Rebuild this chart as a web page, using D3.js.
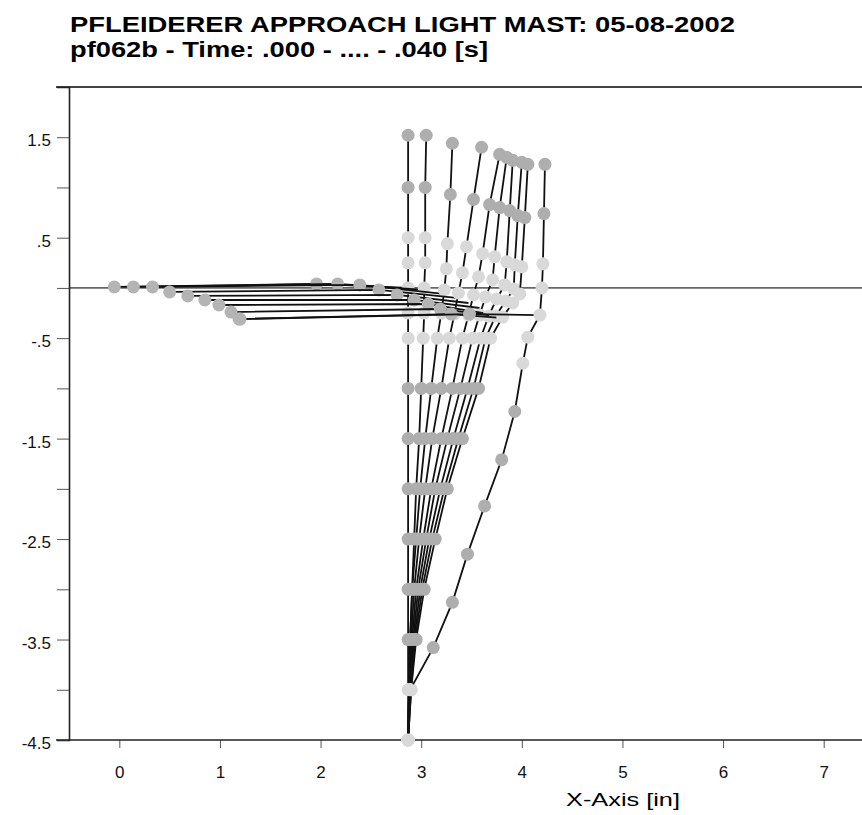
<!DOCTYPE html>
<html>
<head>
<meta charset="utf-8">
<script src="https://cdn.jsdelivr.net/npm/d3@7"></script>
<style>
  body { margin: 0; background: #fff; }
  text { font-family: "Liberation Sans", Arial, sans-serif; }
</style>
</head>
<body>
<script>
// mast node positions per time step (x and y in inches), bottom -> top
const mastX = [
  [2.87,2.87,2.87,2.87,2.87,2.87,2.87,2.87,2.87,2.87,2.87,2.87,2.87,2.87,2.87],
  [2.87,2.88,2.89,2.91,2.93,2.95,2.98,3.00,3.02,3.03,3.03,3.04,3.04,3.04,3.05],
  [2.87,2.88,2.89,2.91,2.95,2.99,3.04,3.10,3.16,3.20,3.23,3.25,3.26,3.29,3.31],
  [2.87,2.88,2.90,2.93,2.98,3.04,3.11,3.20,3.28,3.33,3.37,3.41,3.45,3.52,3.60],
  [2.87,2.88,2.91,2.95,3.02,3.10,3.20,3.31,3.41,3.47,3.52,3.57,3.61,3.68,3.78],
  [2.87,2.89,2.92,2.97,3.05,3.14,3.26,3.39,3.51,3.58,3.64,3.71,3.73,3.78,3.85],
  [2.87,2.89,2.93,2.99,3.08,3.19,3.32,3.46,3.59,3.67,3.75,3.83,3.85,3.88,3.91],
  [2.87,2.90,2.94,3.01,3.11,3.23,3.37,3.52,3.64,3.74,3.84,3.92,3.93,3.96,4.00],
  [2.87,2.90,2.95,3.03,3.14,3.26,3.41,3.57,3.69,3.81,3.91,3.98,4.00,4.03,4.06],
  [2.87,2.89,3.12,3.31,3.46,3.63,3.80,3.93,4.01,4.06,4.18,4.20,4.21,4.22,4.23]
];
const mastY = [
  [-4.5,-4,-3.5,-3,-2.5,-2,-1.5,-1,-0.5,-0.25,0,0.25,0.5,1,1.52],
  [-4.5,-4,-3.5,-3,-2.5,-2,-1.5,-1,-0.5,-0.25,0,0.25,0.5,1,1.52],
  [-4.5,-4,-3.5,-3,-2.5,-2,-1.5,-1,-0.5,-0.25,-0.02,0.19,0.44,0.93,1.44],
  [-4.5,-4,-3.5,-3,-2.5,-2,-1.5,-1,-0.5,-0.26,-0.05,0.15,0.41,0.88,1.40],
  [-4.5,-4,-3.5,-3,-2.5,-2,-1.5,-1,-0.5,-0.27,-0.07,0.11,0.34,0.83,1.33],
  [-4.5,-4,-3.5,-3,-2.5,-2,-1.5,-1,-0.5,-0.27,-0.09,0.08,0.31,0.80,1.30],
  [-4.5,-4,-3.5,-3,-2.5,-2,-1.5,-1,-0.5,-0.28,-0.11,0.03,0.26,0.77,1.27],
  [-4.5,-4,-3.5,-3,-2.5,-2,-1.5,-1,-0.5,-0.28,-0.13,-0.01,0.23,0.72,1.25],
  [-4.5,-4,-3.5,-3,-2.5,-2,-1.5,-1,-0.5,-0.29,-0.15,-0.06,0.21,0.70,1.23],
  [-4.5,-4,-3.58,-3.13,-2.65,-2.17,-1.71,-1.23,-0.75,-0.49,-0.27,0.0,0.24,0.74,1.23]
];
// cross arm per time step: tip, middle node, joint at the mast
const armX = [
  [-0.05,1.96,2.87],
  [0.14,2.17,3.03],
  [0.33,2.39,3.22],
  [0.50,2.58,3.35],
  [0.68,2.76,3.47],
  [0.85,2.93,3.58],
  [0.99,3.07,3.68],
  [1.11,3.19,3.75],
  [1.19,3.30,3.82],
  [1.20,3.48,4.16]
];
const armY = [
  [0.01,0.04,0.0],
  [0.01,0.04,-0.02],
  [0.01,0.03,-0.06],
  [-0.04,-0.02,-0.10],
  [-0.08,-0.07,-0.15],
  [-0.12,-0.12,-0.20],
  [-0.17,-0.16,-0.26],
  [-0.24,-0.21,-0.28],
  [-0.31,-0.26,-0.30],
  [-0.31,-0.26,-0.27]
];
// light or mid grey marker, by node index along the mast
const nodeShade = ["l","l","m","m","m","m","m","m","l","l","l","l","l","m","m"];

const xTicks = [0,1,2,3,4,5,6,7];
const yTicks = [-4.5,-4,-3.5,-3,-2.5,-2,-1.5,-1,-0.5,0,0.5,1,1.5];
const yLabels = [-4.5,-3.5,-2.5,-1.5,-0.5,0.5,1.5];

const W = 862, H = 815;
const svg = d3.select("body").append("svg")
    .attr("width", W)
    .attr("height", H);

const x = d3.scaleLinear().domain([-0.5, 7.5]).range([69, 874]);
const y = d3.scaleLinear().domain([-4.5, 2]).range([740, 87]);

// titles
svg.append("text")
    .attr("x", 70).attr("y", 32)
    .attr("textLength", 665).attr("lengthAdjust", "spacingAndGlyphs")
    .style("font-size", "22px").style("font-weight", "bold")
    .text("PFLEIDERER APPROACH LIGHT MAST: 05-08-2002");
svg.append("text")
    .attr("x", 70).attr("y", 57)
    .attr("textLength", 418).attr("lengthAdjust", "spacingAndGlyphs")
    .style("font-size", "22px").style("font-weight", "bold")
    .text("pf062b - Time: .000 - .... - .040 [s]");

// frame line on top
svg.append("line")
    .attr("x1", 56).attr("x2", W).attr("y1", y(2)).attr("y2", y(2))
    .attr("stroke", "#444").attr("stroke-width", 2);

// zero reference line
svg.append("line")
    .attr("x1", x(-0.5)).attr("x2", W).attr("y1", y(0)).attr("y2", y(0))
    .attr("stroke", "#666").attr("stroke-width", 1.6);

// axes
const fmt = d => d3.format(".1f")(d).replace("\u2212", "-").replace(/^(-?)0\./, "$1.");
const yAxis = svg.append("g")
    .attr("transform", `translate(${x(-0.5)},0)`)
    .call(d3.axisLeft(y).tickValues(yTicks).tickSize(12).tickPadding(6)
        .tickFormat(d => yLabels.includes(d) ? fmt(d) : ""));
yAxis.select(".domain").attr("stroke", "#222").attr("stroke-width", 1.6);
yAxis.selectAll(".tick line").attr("stroke", "#555");
yAxis.selectAll("text").style("font-size", "17px").attr("fill", "#111").attr("dy", "0.5em");

const xAxis = svg.append("g")
    .attr("transform", `translate(0,${y(-4.5)})`)
    .call(d3.axisBottom(x).tickValues(xTicks).tickSize(8).tickPadding(18).tickFormat(d3.format("d")));
xAxis.select(".domain").remove();
xAxis.selectAll(".tick line").attr("stroke", "#555");
xAxis.selectAll("text").style("font-size", "17px").attr("fill", "#111");
svg.append("line")
    .attr("x1", 56).attr("x2", W).attr("y1", y(-4.5)).attr("y2", y(-4.5))
    .attr("stroke", "#222").attr("stroke-width", 1.6);

svg.append("text")
    .attr("x", 566).attr("y", 806)
    .attr("textLength", 114).attr("lengthAdjust", "spacingAndGlyphs")
    .style("font-size", "18px")
    .text("X-Axis [in]");

// mast + arm for each time step
const line = d3.line().x(d => x(d[0])).y(d => y(d[1]));
const shade = { l: "#d9d9d9", m: "#aeaeae" };

mastX.forEach((xs, i) => {
    const mast = xs.map((v, j) => [v, mastY[i][j]]);
    const arm = armX[i].map((v, j) => [v, armY[i][j]]);
    const g = svg.append("g").attr("class", "step");

    g.append("path").datum(mast).attr("d", line)
        .attr("fill", "none").attr("stroke", "#111").attr("stroke-width", 1.8);
    g.append("path").datum(arm).attr("d", line)
        .attr("fill", "none").attr("stroke", "#111").attr("stroke-width", 1.8);

    g.selectAll(".node")
        .data(mast)
        .enter().append("circle")
        .attr("class", "node")
        .attr("cx", d => x(d[0]))
        .attr("cy", d => y(d[1]))
        .attr("r", 6.5)
        .attr("fill", (d, j) => shade[nodeShade[j]]);

    g.selectAll(".armnode")
        .data(arm.slice(0, 2))
        .enter().append("circle")
        .attr("class", "armnode")
        .attr("cx", d => x(d[0]))
        .attr("cy", d => y(d[1]))
        .attr("r", 6.5)
        .attr("fill", "#b4b4b4");
});
</script>
</body>
</html>
